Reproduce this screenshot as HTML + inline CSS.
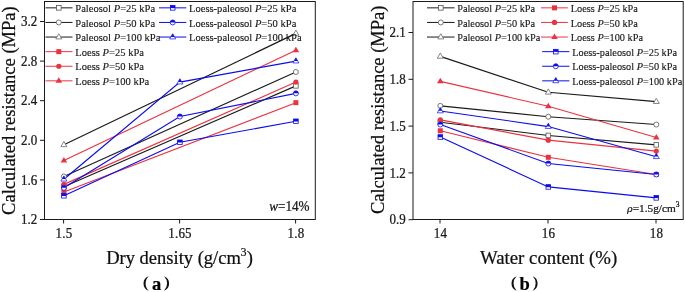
<!DOCTYPE html>
<html><head><meta charset="utf-8"><style>
html,body{margin:0;padding:0;background:#fff;}
svg{display:block;font-family:"Liberation Serif", serif;will-change:transform;}
text{stroke:#000;stroke-width:0.22px;}
</style></head><body>
<svg width="685" height="292" viewBox="0 0 685 292">
<rect width="685" height="292" fill="#fff"/>
<polyline points="63.90,186.83 295.90,85.85" fill="none" stroke="#1a1a1a" stroke-width="1.15"/>
<polyline points="63.90,176.44 295.90,71.99" fill="none" stroke="#1a1a1a" stroke-width="1.15"/>
<polyline points="63.90,144.75 295.90,33.38" fill="none" stroke="#1a1a1a" stroke-width="1.15"/>
<polyline points="63.90,191.98 295.90,102.68" fill="none" stroke="#eb3340" stroke-width="1.15"/>
<polyline points="63.90,184.36 295.90,82.09" fill="none" stroke="#eb3340" stroke-width="1.15"/>
<polyline points="63.90,160.59 295.90,50.21" fill="none" stroke="#eb3340" stroke-width="1.15"/>
<polyline points="63.90,195.74 179.90,142.28 295.90,121.29" fill="none" stroke="#0c0cf0" stroke-width="1.15"/>
<polyline points="63.90,187.82 179.90,116.54 295.90,93.37" fill="none" stroke="#0c0cf0" stroke-width="1.15"/>
<polyline points="63.90,179.21 179.90,82.09 295.90,61.10" fill="none" stroke="#0c0cf0" stroke-width="1.15"/>
<rect x="61.60" y="184.53" width="4.6" height="4.6" fill="#fff" stroke="#555" stroke-width="0.8"/>
<rect x="293.60" y="83.55" width="4.6" height="4.6" fill="#fff" stroke="#555" stroke-width="0.8"/>
<circle cx="63.90" cy="176.44" r="2.5" fill="#fff" stroke="#555" stroke-width="0.8"/>
<circle cx="295.90" cy="71.99" r="2.5" fill="#fff" stroke="#555" stroke-width="0.8"/>
<path d="M63.90,141.43 L66.90,146.63 L60.90,146.63 Z" fill="#fff" stroke="#6a6a6a" stroke-width="0.8"/>
<path d="M295.90,30.05 L298.90,35.25 L292.90,35.25 Z" fill="#fff" stroke="#6a6a6a" stroke-width="0.8"/>
<rect x="61.40" y="189.48" width="5.0" height="5.0" fill="#eb3340"/>
<rect x="293.40" y="100.18" width="5.0" height="5.0" fill="#eb3340"/>
<circle cx="63.90" cy="184.36" r="2.6" fill="#eb3340"/>
<circle cx="295.90" cy="82.09" r="2.6" fill="#eb3340"/>
<path d="M63.90,157.07 L67.20,162.57 L60.60,162.57 Z" fill="#eb3340"/>
<path d="M295.90,46.69 L299.20,52.19 L292.60,52.19 Z" fill="#eb3340"/>
<rect x="61.60" y="193.44" width="4.6" height="4.6" fill="#fff" stroke="#0c0cf0" stroke-width="0.8"/><rect x="61.60" y="193.44" width="4.6" height="2.53" fill="#0c0cf0"/>
<rect x="177.60" y="139.98" width="4.6" height="4.6" fill="#fff" stroke="#0c0cf0" stroke-width="0.8"/><rect x="177.60" y="139.98" width="4.6" height="2.53" fill="#0c0cf0"/>
<rect x="293.60" y="118.99" width="4.6" height="4.6" fill="#fff" stroke="#0c0cf0" stroke-width="0.8"/><rect x="293.60" y="118.99" width="4.6" height="2.53" fill="#0c0cf0"/>
<circle cx="63.90" cy="187.82" r="2.5" fill="#fff" stroke="#0c0cf0" stroke-width="0.8"/><path d="M61.40,187.82 A2.5,2.5 0 0 1 66.40,187.82 Z" fill="#0c0cf0"/>
<circle cx="179.90" cy="116.54" r="2.5" fill="#fff" stroke="#0c0cf0" stroke-width="0.8"/><path d="M177.40,116.54 A2.5,2.5 0 0 1 182.40,116.54 Z" fill="#0c0cf0"/>
<circle cx="295.90" cy="93.37" r="2.5" fill="#fff" stroke="#0c0cf0" stroke-width="0.8"/><path d="M293.40,93.37 A2.5,2.5 0 0 1 298.40,93.37 Z" fill="#0c0cf0"/>
<path d="M63.90,175.88 L66.90,181.08 L60.90,181.08 Z" fill="#fff" stroke="#0c0cf0" stroke-width="0.7"/><path d="M63.90,175.88 L65.76,179.10 L62.04,179.10 Z" fill="#0c0cf0"/>
<path d="M179.90,78.76 L182.90,83.96 L176.90,83.96 Z" fill="#fff" stroke="#0c0cf0" stroke-width="0.7"/><path d="M179.90,78.76 L181.76,81.98 L178.04,81.98 Z" fill="#0c0cf0"/>
<path d="M295.90,57.77 L298.90,62.97 L292.90,62.97 Z" fill="#fff" stroke="#0c0cf0" stroke-width="0.7"/><path d="M295.90,57.77 L297.76,61.00 L294.04,61.00 Z" fill="#0c0cf0"/>
<line x1="45.5" y1="7.85" x2="72.5" y2="7.85" stroke="#1a1a1a" stroke-width="1"/><rect x="56.50" y="5.55" width="4.6" height="4.6" fill="#fff" stroke="#555" stroke-width="0.8"/><text x="75.3" y="11.90" font-size="10.55" fill="#222" style="stroke-width:0.12px">Paleosol <tspan font-style="italic">P</tspan>=25 kPa</text>
<line x1="45.5" y1="22.45" x2="72.5" y2="22.45" stroke="#1a1a1a" stroke-width="1"/><circle cx="58.80" cy="22.45" r="2.5" fill="#fff" stroke="#555" stroke-width="0.8"/><text x="75.3" y="26.50" font-size="10.55" fill="#222" style="stroke-width:0.12px">Paleosol <tspan font-style="italic">P</tspan>=50 kPa</text>
<line x1="45.5" y1="37.05" x2="72.5" y2="37.05" stroke="#1a1a1a" stroke-width="1"/><path d="M58.80,33.72 L61.80,38.92 L55.80,38.92 Z" fill="#fff" stroke="#6a6a6a" stroke-width="0.8"/><text x="75.3" y="41.10" font-size="10.55" fill="#222" style="stroke-width:0.12px">Paleosol <tspan font-style="italic">P</tspan>=100 kPa</text>
<line x1="45.5" y1="51.65" x2="72.5" y2="51.65" stroke="#eb3340" stroke-width="1"/><rect x="56.30" y="49.15" width="5.0" height="5.0" fill="#eb3340"/><text x="75.3" y="55.70" font-size="10.55" fill="#222" style="stroke-width:0.12px">Loess <tspan font-style="italic">P</tspan>=25 kPa</text>
<line x1="45.5" y1="66.25" x2="72.5" y2="66.25" stroke="#eb3340" stroke-width="1"/><circle cx="58.80" cy="66.25" r="2.6" fill="#eb3340"/><text x="75.3" y="70.30" font-size="10.55" fill="#222" style="stroke-width:0.12px">Loess <tspan font-style="italic">P</tspan>=50 kPa</text>
<line x1="45.5" y1="80.85" x2="72.5" y2="80.85" stroke="#eb3340" stroke-width="1"/><path d="M58.80,77.33 L62.10,82.83 L55.50,82.83 Z" fill="#eb3340"/><text x="75.3" y="84.90" font-size="10.55" fill="#222" style="stroke-width:0.12px">Loess <tspan font-style="italic">P</tspan>=100 kPa</text>
<line x1="159" y1="7.85" x2="186.3" y2="7.85" stroke="#0c0cf0" stroke-width="1"/><rect x="170.40" y="5.55" width="4.6" height="4.6" fill="#fff" stroke="#0c0cf0" stroke-width="0.8"/><rect x="170.40" y="5.55" width="4.6" height="2.53" fill="#0c0cf0"/><text x="189.0" y="11.90" font-size="10.55" fill="#222" style="stroke-width:0.12px">Loess-paleosol <tspan font-style="italic">P</tspan>=25 kPa</text>
<line x1="159" y1="22.45" x2="186.3" y2="22.45" stroke="#0c0cf0" stroke-width="1"/><circle cx="172.70" cy="22.45" r="2.5" fill="#fff" stroke="#0c0cf0" stroke-width="0.8"/><path d="M170.20,22.45 A2.5,2.5 0 0 1 175.20,22.45 Z" fill="#0c0cf0"/><text x="189.0" y="26.50" font-size="10.55" fill="#222" style="stroke-width:0.12px">Loess-paleosol <tspan font-style="italic">P</tspan>=50 kPa</text>
<line x1="159" y1="37.05" x2="186.3" y2="37.05" stroke="#0c0cf0" stroke-width="1"/><path d="M172.70,33.72 L175.70,38.92 L169.70,38.92 Z" fill="#fff" stroke="#0c0cf0" stroke-width="0.7"/><path d="M172.70,33.72 L174.56,36.95 L170.84,36.95 Z" fill="#0c0cf0"/><text x="189.0" y="41.10" font-size="10.55" fill="#222" style="stroke-width:0.12px">Loess-paleosol <tspan font-style="italic">P</tspan>=100 kPa</text>
<rect x="44.5" y="1.5" width="270.8" height="218.0" fill="none" stroke="#1a1a1a" stroke-width="1"/>
<line x1="40.0" y1="219.50" x2="44.5" y2="219.50" stroke="#1a1a1a" stroke-width="1"/>
<text transform="translate(37.20,224.10) scale(1,1.13)" font-size="13" text-anchor="end" fill="#222">1.2</text>
<line x1="40.0" y1="179.90" x2="44.5" y2="179.90" stroke="#1a1a1a" stroke-width="1"/>
<text transform="translate(37.20,184.50) scale(1,1.13)" font-size="13" text-anchor="end" fill="#222">1.6</text>
<line x1="40.0" y1="140.30" x2="44.5" y2="140.30" stroke="#1a1a1a" stroke-width="1"/>
<text transform="translate(37.20,144.90) scale(1,1.13)" font-size="13" text-anchor="end" fill="#222">2.0</text>
<line x1="40.0" y1="100.70" x2="44.5" y2="100.70" stroke="#1a1a1a" stroke-width="1"/>
<text transform="translate(37.20,105.30) scale(1,1.13)" font-size="13" text-anchor="end" fill="#222">2.4</text>
<line x1="40.0" y1="61.10" x2="44.5" y2="61.10" stroke="#1a1a1a" stroke-width="1"/>
<text transform="translate(37.20,65.70) scale(1,1.13)" font-size="13" text-anchor="end" fill="#222">2.8</text>
<line x1="40.0" y1="21.50" x2="44.5" y2="21.50" stroke="#1a1a1a" stroke-width="1"/>
<text transform="translate(37.20,26.10) scale(1,1.13)" font-size="13" text-anchor="end" fill="#222">3.2</text>
<line x1="63.60" y1="219.5" x2="63.60" y2="223.5" stroke="#1a1a1a" stroke-width="1"/>
<text transform="translate(64.00,237.6) scale(1,1.13)" font-size="13" text-anchor="middle" fill="#222" letter-spacing="0.2">1.5</text>
<line x1="179.60" y1="219.5" x2="179.60" y2="223.5" stroke="#1a1a1a" stroke-width="1"/>
<text transform="translate(180.00,237.6) scale(1,1.13)" font-size="13" text-anchor="middle" fill="#222" letter-spacing="0.2">1.65</text>
<line x1="295.60" y1="219.5" x2="295.60" y2="223.5" stroke="#1a1a1a" stroke-width="1"/>
<text transform="translate(296.00,237.6) scale(1,1.13)" font-size="13" text-anchor="middle" fill="#222" letter-spacing="0.2">1.8</text>
<text transform="translate(309.6,210.8) scale(1,1.1)" font-size="13.2" text-anchor="end" fill="#222"><tspan font-style="italic">w</tspan>=14%</text>
<text x="106.2" y="264.4" font-size="18.5" fill="#111">Dry density (g/cm<tspan font-size="11.5" dy="-8.6" dx="-0.2">3</tspan><tspan dy="8.6" dx="0.3">)</tspan></text>
<path d="M148.8,276.3 A7.61,7.61 0 0 0 148.8,290.8 A9.85,9.85 0 0 1 148.8,276.3 Z" fill="#111"/><path d="M164.0,276.3 A7.70,7.70 0 0 1 164.0,290.8 A10.12,10.12 0 0 0 164.0,276.3 Z" fill="#111"/><text x="151.9" y="289.9" font-size="18.5" font-weight="bold">a</text>
<text transform="translate(14.8,110.6) rotate(-90)" font-size="18.5" text-anchor="middle" fill="#111">Calculated resistance (MPa)</text>
<polyline points="440.30,122.20 548.30,135.46 656.30,144.82" fill="none" stroke="#1a1a1a" stroke-width="1.15"/>
<polyline points="440.30,105.82 548.30,116.74 656.30,124.54" fill="none" stroke="#1a1a1a" stroke-width="1.15"/>
<polyline points="440.30,56.37 548.30,92.25 656.30,101.61" fill="none" stroke="#1a1a1a" stroke-width="1.15"/>
<polyline points="440.30,130.78 548.30,157.30 656.30,174.46" fill="none" stroke="#eb3340" stroke-width="1.15"/>
<polyline points="440.30,119.86 548.30,140.14 656.30,151.06" fill="none" stroke="#eb3340" stroke-width="1.15"/>
<polyline points="440.30,81.33 548.30,106.29 656.30,137.49" fill="none" stroke="#eb3340" stroke-width="1.15"/>
<polyline points="440.30,137.02 548.30,186.94 656.30,197.86" fill="none" stroke="#0c0cf0" stroke-width="1.15"/>
<polyline points="440.30,124.54 548.30,163.54 656.30,174.46" fill="none" stroke="#0c0cf0" stroke-width="1.15"/>
<polyline points="440.30,110.97 548.30,126.57 656.30,156.68" fill="none" stroke="#0c0cf0" stroke-width="1.15"/>
<rect x="438.00" y="119.90" width="4.6" height="4.6" fill="#fff" stroke="#555" stroke-width="0.8"/>
<rect x="546.00" y="133.16" width="4.6" height="4.6" fill="#fff" stroke="#555" stroke-width="0.8"/>
<rect x="654.00" y="142.52" width="4.6" height="4.6" fill="#fff" stroke="#555" stroke-width="0.8"/>
<circle cx="440.30" cy="105.82" r="2.5" fill="#fff" stroke="#555" stroke-width="0.8"/>
<circle cx="548.30" cy="116.74" r="2.5" fill="#fff" stroke="#555" stroke-width="0.8"/>
<circle cx="656.30" cy="124.54" r="2.5" fill="#fff" stroke="#555" stroke-width="0.8"/>
<path d="M440.30,53.04 L443.30,58.24 L437.30,58.24 Z" fill="#fff" stroke="#6a6a6a" stroke-width="0.8"/>
<path d="M548.30,88.92 L551.30,94.12 L545.30,94.12 Z" fill="#fff" stroke="#6a6a6a" stroke-width="0.8"/>
<path d="M656.30,98.28 L659.30,103.48 L653.30,103.48 Z" fill="#fff" stroke="#6a6a6a" stroke-width="0.8"/>
<rect x="437.80" y="128.28" width="5.0" height="5.0" fill="#eb3340"/>
<rect x="545.80" y="154.80" width="5.0" height="5.0" fill="#eb3340"/>
<rect x="653.80" y="171.96" width="5.0" height="5.0" fill="#eb3340"/>
<circle cx="440.30" cy="119.86" r="2.6" fill="#eb3340"/>
<circle cx="548.30" cy="140.14" r="2.6" fill="#eb3340"/>
<circle cx="656.30" cy="151.06" r="2.6" fill="#eb3340"/>
<path d="M440.30,77.81 L443.60,83.31 L437.00,83.31 Z" fill="#eb3340"/>
<path d="M548.30,102.77 L551.60,108.27 L545.00,108.27 Z" fill="#eb3340"/>
<path d="M656.30,133.97 L659.60,139.47 L653.00,139.47 Z" fill="#eb3340"/>
<rect x="438.00" y="134.72" width="4.6" height="4.6" fill="#fff" stroke="#0c0cf0" stroke-width="0.8"/><rect x="438.00" y="134.72" width="4.6" height="2.53" fill="#0c0cf0"/>
<rect x="546.00" y="184.64" width="4.6" height="4.6" fill="#fff" stroke="#0c0cf0" stroke-width="0.8"/><rect x="546.00" y="184.64" width="4.6" height="2.53" fill="#0c0cf0"/>
<rect x="654.00" y="195.56" width="4.6" height="4.6" fill="#fff" stroke="#0c0cf0" stroke-width="0.8"/><rect x="654.00" y="195.56" width="4.6" height="2.53" fill="#0c0cf0"/>
<circle cx="440.30" cy="124.54" r="2.5" fill="#fff" stroke="#0c0cf0" stroke-width="0.8"/><path d="M437.80,124.54 A2.5,2.5 0 0 1 442.80,124.54 Z" fill="#0c0cf0"/>
<circle cx="548.30" cy="163.54" r="2.5" fill="#fff" stroke="#0c0cf0" stroke-width="0.8"/><path d="M545.80,163.54 A2.5,2.5 0 0 1 550.80,163.54 Z" fill="#0c0cf0"/>
<circle cx="656.30" cy="174.46" r="2.5" fill="#fff" stroke="#0c0cf0" stroke-width="0.8"/><path d="M653.80,174.46 A2.5,2.5 0 0 1 658.80,174.46 Z" fill="#0c0cf0"/>
<path d="M440.30,107.64 L443.30,112.84 L437.30,112.84 Z" fill="#fff" stroke="#0c0cf0" stroke-width="0.7"/><path d="M440.30,107.64 L442.16,110.86 L438.44,110.86 Z" fill="#0c0cf0"/>
<path d="M548.30,123.24 L551.30,128.44 L545.30,128.44 Z" fill="#fff" stroke="#0c0cf0" stroke-width="0.7"/><path d="M548.30,123.24 L550.16,126.46 L546.44,126.46 Z" fill="#0c0cf0"/>
<path d="M656.30,153.35 L659.30,158.55 L653.30,158.55 Z" fill="#fff" stroke="#0c0cf0" stroke-width="0.7"/><path d="M656.30,153.35 L658.16,156.57 L654.44,156.57 Z" fill="#0c0cf0"/>
<line x1="427" y1="7.85" x2="454.6" y2="7.85" stroke="#1a1a1a" stroke-width="1"/><rect x="438.50" y="5.55" width="4.6" height="4.6" fill="#fff" stroke="#555" stroke-width="0.8"/><text x="457.2" y="11.90" font-size="10.3" fill="#222" style="stroke-width:0.12px">Paleosol <tspan font-style="italic">P</tspan>=25 kPa</text>
<line x1="427" y1="22.45" x2="454.6" y2="22.45" stroke="#1a1a1a" stroke-width="1"/><circle cx="440.80" cy="22.45" r="2.5" fill="#fff" stroke="#555" stroke-width="0.8"/><text x="457.2" y="26.50" font-size="10.3" fill="#222" style="stroke-width:0.12px">Paleosol <tspan font-style="italic">P</tspan>=50 kPa</text>
<line x1="427" y1="37.05" x2="454.6" y2="37.05" stroke="#1a1a1a" stroke-width="1"/><path d="M440.80,33.72 L443.80,38.92 L437.80,38.92 Z" fill="#fff" stroke="#6a6a6a" stroke-width="0.8"/><text x="457.2" y="41.10" font-size="10.3" fill="#222" style="stroke-width:0.12px">Paleosol <tspan font-style="italic">P</tspan>=100 kPa</text>
<line x1="541" y1="7.85" x2="567.8" y2="7.85" stroke="#eb3340" stroke-width="1"/><rect x="552.00" y="5.35" width="5.0" height="5.0" fill="#eb3340"/><text x="570.8" y="11.90" font-size="10.3" fill="#222" style="stroke-width:0.12px">Loess <tspan font-style="italic">P</tspan>=25 kPa</text>
<line x1="541" y1="22.45" x2="567.8" y2="22.45" stroke="#eb3340" stroke-width="1"/><circle cx="554.50" cy="22.45" r="2.6" fill="#eb3340"/><text x="570.8" y="26.50" font-size="10.3" fill="#222" style="stroke-width:0.12px">Loess <tspan font-style="italic">P</tspan>=50 kPa</text>
<line x1="541" y1="37.05" x2="567.8" y2="37.05" stroke="#eb3340" stroke-width="1"/><path d="M554.50,33.53 L557.80,39.03 L551.20,39.03 Z" fill="#eb3340"/><text x="570.8" y="41.10" font-size="10.3" fill="#222" style="stroke-width:0.12px">Loess <tspan font-style="italic">P</tspan>=100 kPa</text>
<line x1="542.2" y1="51.65" x2="569.4" y2="51.65" stroke="#0c0cf0" stroke-width="1"/><rect x="553.50" y="49.35" width="4.6" height="4.6" fill="#fff" stroke="#0c0cf0" stroke-width="0.8"/><rect x="553.50" y="49.35" width="4.6" height="2.53" fill="#0c0cf0"/><text x="572.3" y="55.70" font-size="10.3" fill="#222" style="stroke-width:0.12px">Loess-paleosol <tspan font-style="italic">P</tspan>=25 kPa</text>
<line x1="542.2" y1="66.25" x2="569.4" y2="66.25" stroke="#0c0cf0" stroke-width="1"/><circle cx="555.80" cy="66.25" r="2.5" fill="#fff" stroke="#0c0cf0" stroke-width="0.8"/><path d="M553.30,66.25 A2.5,2.5 0 0 1 558.30,66.25 Z" fill="#0c0cf0"/><text x="572.3" y="70.30" font-size="10.3" fill="#222" style="stroke-width:0.12px">Loess-paleosol <tspan font-style="italic">P</tspan>=50 kPa</text>
<line x1="542.2" y1="80.85" x2="569.4" y2="80.85" stroke="#0c0cf0" stroke-width="1"/><path d="M555.80,77.52 L558.80,82.72 L552.80,82.72 Z" fill="#fff" stroke="#0c0cf0" stroke-width="0.7"/><path d="M555.80,77.52 L557.66,80.75 L553.94,80.75 Z" fill="#0c0cf0"/><text x="572.3" y="84.90" font-size="10.3" fill="#222" style="stroke-width:0.12px">Loess-paleosol <tspan font-style="italic">P</tspan>=100 kPa</text>
<rect x="413.0" y="1.5" width="270.20000000000005" height="218.0" fill="none" stroke="#1a1a1a" stroke-width="1"/>
<line x1="408.5" y1="219.70" x2="413.0" y2="219.70" stroke="#1a1a1a" stroke-width="1"/>
<text transform="translate(405.70,224.30) scale(1,1.13)" font-size="13" text-anchor="end" fill="#222">0.9</text>
<line x1="408.5" y1="172.90" x2="413.0" y2="172.90" stroke="#1a1a1a" stroke-width="1"/>
<text transform="translate(405.70,177.50) scale(1,1.13)" font-size="13" text-anchor="end" fill="#222">1.2</text>
<line x1="408.5" y1="126.10" x2="413.0" y2="126.10" stroke="#1a1a1a" stroke-width="1"/>
<text transform="translate(405.70,130.70) scale(1,1.13)" font-size="13" text-anchor="end" fill="#222">1.5</text>
<line x1="408.5" y1="79.30" x2="413.0" y2="79.30" stroke="#1a1a1a" stroke-width="1"/>
<text transform="translate(405.70,83.90) scale(1,1.13)" font-size="13" text-anchor="end" fill="#222">1.8</text>
<line x1="408.5" y1="32.50" x2="413.0" y2="32.50" stroke="#1a1a1a" stroke-width="1"/>
<text transform="translate(405.70,37.10) scale(1,1.13)" font-size="13" text-anchor="end" fill="#222">2.1</text>
<line x1="440.00" y1="219.5" x2="440.00" y2="223.5" stroke="#1a1a1a" stroke-width="1"/>
<text transform="translate(440.40,237.6) scale(1,1.13)" font-size="13" text-anchor="middle" fill="#222" letter-spacing="0.2">14</text>
<line x1="548.00" y1="219.5" x2="548.00" y2="223.5" stroke="#1a1a1a" stroke-width="1"/>
<text transform="translate(548.40,237.6) scale(1,1.13)" font-size="13" text-anchor="middle" fill="#222" letter-spacing="0.2">16</text>
<line x1="656.00" y1="219.5" x2="656.00" y2="223.5" stroke="#1a1a1a" stroke-width="1"/>
<text transform="translate(656.40,237.6) scale(1,1.13)" font-size="13" text-anchor="middle" fill="#222" letter-spacing="0.2">18</text>
<text x="679.5" y="212.2" font-size="11.3" text-anchor="end" fill="#222"><tspan font-style="italic">ρ</tspan>=1.5g/cm<tspan font-size="7.5" dy="-5">3</tspan></text>
<text x="548.6" y="263.9" font-size="18.8" text-anchor="middle" fill="#111">Water content (%)</text>
<path d="M516.6,276.3 A7.70,7.70 0 0 0 516.6,290.8 A10.12,10.12 0 0 1 516.6,276.3 Z" fill="#111"/><path d="M532.8,276.3 A7.88,7.88 0 0 1 532.8,290.8 A10.57,10.57 0 0 0 532.8,276.3 Z" fill="#111"/><text x="519.6" y="289.9" font-size="18.5" font-weight="bold">b</text>
<text transform="translate(384.2,109.8) rotate(-90)" font-size="18.5" text-anchor="middle" fill="#111">Calculated resistance (MPa)</text>
</svg>
</body></html>
